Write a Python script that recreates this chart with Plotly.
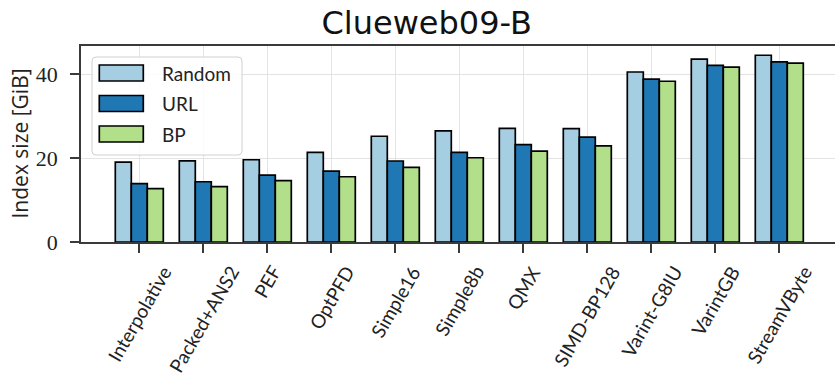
import plotly.graph_objects as go

# ---------------- data ----------------
categories = ["Interpolative", "Packed+ANS2", "PEF", "OptPFD", "Simple16", "Simple8b",
              "QMX", "SIMD-BP128", "Varint-G8IU", "VarintGB", "StreamVByte"]
series_names = ["Random", "URL", "BP"]
random_vals = [19.05, 19.35, 19.6, 21.35, 25.2, 26.5, 27.05, 27.0, 40.5, 43.55, 44.5]
url_vals = [13.9, 14.35, 15.95, 16.9, 19.3, 21.35, 23.2, 25.0, 38.8, 42.1, 42.9]
bp_vals = [12.7, 13.2, 14.6, 15.55, 17.8, 20.07, 21.65, 22.9, 38.3, 41.65, 42.6]
y_ticks = [0, 20, 40]
title_text = "Clueweb09-B"
y_title = "Index size [GiB]"

colors = ["#a6cee3", "#1f78b4", "#b2df8a"]
series_values = [random_vals, url_vals, bp_vals]

# ---------------- geometry (pixels) ----------------
FW, FH = 835, 375
ML, MR, MT, MB = 81, 0, 46, 133
PW = FW - ML - MR
PH = FH - MT - MB


def xp(px):
    return (px - ML) / PW


def yp(py):
    return (FH - MB - py) / PH


fig = go.Figure()
for name, vals, col in zip(series_names, series_values, colors):
    fig.add_trace(go.Bar(
        x=categories, y=vals, name=name,
        marker=dict(color=col, line=dict(color="black", width=1.7)),
        showlegend=False,
    ))

spine = "#3a3a3a"
grid = "#e3e3e3"

fig.update_layout(
    width=FW, height=FH,
    margin=dict(l=ML, r=MR, t=MT, b=MB, pad=0),
    paper_bgcolor="white", plot_bgcolor="white",
    barmode="group", bargap=0.25, bargroupgap=0,
    title=dict(text=title_text, x=426.7 / FW, xref="container", xanchor="center",
               y=1 - 23 / FH, yref="container", yanchor="middle",
               font=dict(family="DejaVu Sans", size=32, color="#111111")),
    xaxis=dict(
        type="category", range=[-0.911, -0.911 + PW / 64.0],
        showgrid=True, gridcolor=grid, gridwidth=1,
        showline=True, linecolor=spine, linewidth=1.5, mirror=True,
        ticks="outside", ticklen=9, tickwidth=1.5, tickcolor=spine,
        showticklabels=False, zeroline=False,
    ),
    yaxis=dict(
        range=[0, 46.7], tickvals=y_ticks,
        showgrid=True, gridcolor=grid, gridwidth=1,
        showline=True, linecolor=spine, linewidth=1.5,
        ticks="outside", ticklen=9, tickwidth=1.5, tickcolor=spine,
        tickfont=dict(family="Liberation Serif, serif", size=22, color="#222222"),
        ticklabelstandoff=8, zeroline=False,
    ),
)

# y axis title
fig.add_annotation(text=y_title, xref="paper", yref="paper",
                   x=xp(19), y=yp(143.5), textangle=-90, showarrow=False,
                   xanchor="center", yanchor="middle",
                   font=dict(family="Open Sans, sans-serif", size=21, color="#222222"))

# rotated category labels
for c in categories:
    fig.add_annotation(text=c, xref="x", yref="paper", x=c, y=yp(259),
                       textangle=-60, showarrow=False, xanchor="center", yanchor="top",
                       font=dict(family="Lato, sans-serif", size=19, color="#222222"))

# custom legend
bx0, bx1, by0, by1 = 92, 242, 57, 155
r = 4
path = (f"M {xp(bx0 + r)},{yp(by0)} L {xp(bx1 - r)},{yp(by0)} Q {xp(bx1)},{yp(by0)} {xp(bx1)},{yp(by0 + r)} "
        f"L {xp(bx1)},{yp(by1 - r)} Q {xp(bx1)},{yp(by1)} {xp(bx1 - r)},{yp(by1)} "
        f"L {xp(bx0 + r)},{yp(by1)} Q {xp(bx0)},{yp(by1)} {xp(bx0)},{yp(by1 - r)} "
        f"L {xp(bx0)},{yp(by0 + r)} Q {xp(bx0)},{yp(by0)} {xp(bx0 + r)},{yp(by0)} Z")
fig.add_shape(type="path", path=path, xref="paper", yref="paper",
              fillcolor="rgba(255,255,255,0.85)", line=dict(color="#d0d0d0", width=1),
              layer="above")
row_centers = [73, 103.5, 134]
for name, col, cy in zip(series_names, colors, row_centers):
    fig.add_shape(type="rect", xref="paper", yref="paper",
                  x0=xp(99.3), x1=xp(143.3), y0=yp(cy - 8), y1=yp(cy + 8),
                  fillcolor=col, line=dict(color="black", width=1.7), layer="above")
    fig.add_annotation(text=name, xref="paper", yref="paper", x=xp(160), y=yp(cy),
                       xanchor="left", yanchor="middle", showarrow=False,
                       font=dict(family="Lato, sans-serif", size=19, color="#222222"))

fig.write_html("out.html", config={"displayModeBar": False},
               post_script="document.body.style.margin='0';document.body.style.overflow='hidden';")
